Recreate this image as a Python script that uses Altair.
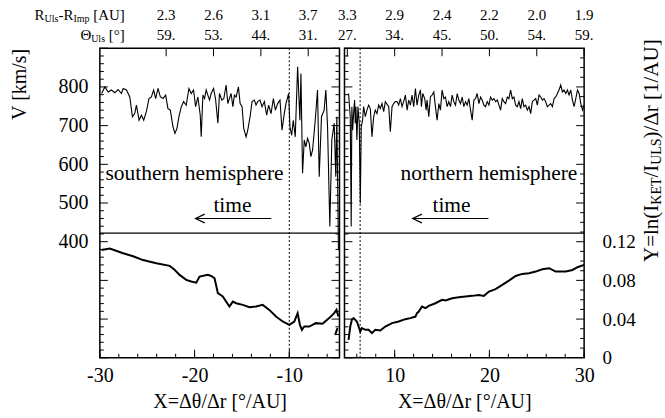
import altair as alt
import pandas as pd

FONT = "Liberation Serif, Times New Roman, serif"
W, H = 240, 310

# ---------------- data ----------------
LEFT_VX = [-29.82, -29.47, -29.12, -28.77, -28.42, -28.07, -27.72, -27.54, -27.19, -26.84,
           -26.56, -26.32, -26.14, -25.86, -25.61, -25.37, -25.09, -24.81, -24.56, -24.32,
           -24.11, -23.86, -23.61, -23.33, -23.05, -22.81, -22.56, -22.28, -22.07, -21.86,
           -21.65, -21.40, -21.16, -20.88, -20.60, -20.35, -20.11, -19.89, -19.65, -19.40,
           -19.30, -19.12, -18.95, -18.77, -18.60, -18.42, -18.25, -18.00, -17.79, -17.54,
           -17.37, -17.12, -16.91, -16.67, -16.49, -16.32, -16.14, -15.96, -15.79, -15.61,
           -15.37, -15.19, -14.98, -14.81, -14.56, -14.39, -14.14, -13.93, -13.68, -13.51,
           -13.33, -13.09, -12.88, -12.63, -12.39, -12.18, -11.93, -11.68, -11.47, -11.23,
           -10.98, -10.77, -10.53, -10.35, -10.07, -9.93, -9.75, -9.58, -9.37, -9.12,
           -8.88, -8.77, -8.60, -8.42, -8.25, -8.07, -7.89, -7.72, -7.54, -7.26,
           -7.02, -6.84, -6.60, -6.32, -6.14, -5.96, -5.72, -5.51, -5.26, -5.09,
           -4.98, -4.81]
LEFT_V = [783, 800, 787, 792, 785, 793, 783, 796, 792, 774,
          723, 731, 753, 714, 727, 714, 736, 770, 774, 792,
          770, 796, 774, 770, 779, 744, 740, 697, 680, 693,
          723, 749, 762, 753, 796, 783, 792, 749, 774, 727,
          671, 779, 770, 792, 779, 766, 783, 796, 770, 706,
          783, 766, 770, 805, 757, 770, 783, 749, 779, 774,
          800, 757, 749, 693, 671, 688, 723, 762, 766, 753,
          762, 766, 749, 762, 727, 753, 731, 770, 740, 757,
          766, 688, 731, 757, 783, 697, 675, 714, 671, 852,
          714, 835, 577, 663, 645, 667, 654, 620, 637, 714,
          792, 568, 723, 740, 792, 697, 439, 663, 706, 568,
          723, 378]

RIGHT_VX = [5.13, 5.31, 5.41, 5.48, 5.56, 5.66, 5.77, 5.84, 5.91, 6.01,
            6.12, 6.26, 6.37, 6.47, 6.61, 6.72, 6.90, 7.07, 7.25, 7.43,
            7.60, 7.78, 7.95, 8.13, 8.31, 8.48, 8.66, 8.84, 9.01, 9.37,
            9.54, 9.72, 9.89, 10.07, 10.25, 10.42, 10.60, 10.78, 10.95, 11.13,
            11.31, 11.48, 11.66, 11.83, 12.01, 12.19, 12.36, 12.54, 12.72, 12.82,
            12.96, 13.17, 13.32, 13.42, 13.60, 13.77, 13.95, 14.13, 14.30, 14.48,
            14.66, 14.83, 15.01, 15.19, 15.36, 15.54, 15.71, 15.89, 16.07, 16.24,
            16.42, 16.60, 16.77, 16.95, 17.13, 17.30, 17.48, 17.65, 17.83, 18.01,
            18.18, 18.36, 18.54, 18.71, 18.89, 19.07, 19.24, 19.42, 19.59, 19.77,
            19.95, 20.12, 20.30, 20.48, 20.65, 20.83, 21.01, 21.18, 21.36, 21.53,
            21.71, 21.89, 22.06, 22.24, 22.42, 22.59, 22.77, 22.95, 23.12, 23.30,
            23.47, 23.65, 23.83, 24.00, 24.18, 24.36, 24.53, 24.71, 24.89, 25.06,
            25.24, 25.42, 25.59, 25.77, 25.94, 26.12, 26.30, 26.47, 26.65, 26.83,
            27.00, 27.18, 27.35, 27.53, 27.71, 27.88, 28.06, 28.24, 28.41, 28.59,
            28.77, 28.94, 29.12, 29.30, 29.47, 29.65, 29.83, 30.00]
RIGHT_V = [783, 723, 439, 749, 688, 731, 766, 706, 749, 663,
           749, 706, 499, 697, 714, 749, 723, 740, 753, 744,
           671, 723, 740, 731, 753, 744, 757, 736, 762, 749,
           684, 749, 757, 762, 762, 753, 770, 749, 762, 779,
           740, 766, 753, 779, 749, 796, 753, 779, 792, 749,
           783, 770, 740, 766, 723, 774, 779, 787, 749, 714,
           757, 740, 792, 770, 774, 749, 762, 749, 779, 762,
           753, 783, 766, 757, 774, 749, 762, 753, 770, 740,
           714, 766, 770, 783, 757, 774, 766, 753, 749, 762,
           753, 774, 766, 770, 762, 766, 753, 740, 770, 762,
           757, 774, 770, 792, 770, 774, 753, 749, 762, 744,
           770, 749, 753, 740, 749, 731, 762, 766, 770, 753,
           779, 774, 766, 770, 762, 749, 753, 757, 749, 770,
           774, 783, 792, 805, 787, 792, 783, 792, 779, 792,
           766, 749, 770, 792, 783, 757, 740, 753]

LEFT_YX = [-29.82, -28.95, -27.54, -26.49, -25.44, -24.04, -22.63, -22.11, -21.58, -20.88,
           -20.35, -19.82, -19.47, -18.60, -18.25, -17.89, -17.54, -17.02, -16.32, -15.96,
           -15.61, -14.91, -14.21, -13.51, -12.81, -12.11, -11.40, -10.70, -10.00, -9.47,
           -9.12, -8.88, -8.67, -8.42, -7.89, -7.19, -6.49, -5.79, -5.26, -5.02, -4.81]
LEFT_Y = [0.1115, 0.113, 0.108, 0.105, 0.101, 0.0977, 0.095, 0.091, 0.0857, 0.0805,
          0.0788, 0.0777, 0.0839, 0.0857, 0.0846, 0.0822, 0.0668, 0.0633, 0.0530, 0.0581,
          0.0564, 0.0547, 0.0523, 0.0530, 0.0547, 0.0495, 0.0426, 0.0375, 0.0341, 0.0375,
          0.0461, 0.0341, 0.0289, 0.0323, 0.0323, 0.0358, 0.0351, 0.041, 0.0461, 0.0495, 0.0426]
LEFT_YX_TAIL = [-5.16, -4.91]
LEFT_Y_TAIL = [0.0237, 0.0306]

RIGHT_YX = [5.13, 5.31, 5.48, 5.66, 6.01, 6.37, 6.54, 6.90, 7.25, 7.60,
            7.95, 8.48, 9.01, 9.72, 10.42, 11.13, 11.66, 12.19, 12.36, 12.54,
            12.89, 13.25, 13.60, 14.30, 15.01, 15.36, 16.07, 16.77, 17.48, 18.18,
            18.89, 19.42, 19.95, 20.65, 21.36, 22.06, 22.77, 23.47, 24.18, 24.89,
            25.59, 26.30, 27.00, 28.06, 28.77, 29.30, 30.00]
RIGHT_Y = [0.0186, 0.0323, 0.0392, 0.041, 0.0375, 0.0271, 0.0306, 0.0289, 0.0289, 0.0255,
           0.0289, 0.0282, 0.0323, 0.0358, 0.0375, 0.0399, 0.041, 0.0426, 0.0461, 0.0478,
           0.053, 0.0513, 0.0537, 0.0564, 0.0599, 0.0592, 0.0616, 0.0626, 0.0633, 0.064,
           0.065, 0.064, 0.0684, 0.0709, 0.0753, 0.0798, 0.0846, 0.0867, 0.0874, 0.0891,
           0.0915, 0.0926, 0.0891, 0.0891, 0.0908, 0.0936, 0.096]

TOP_X_LEFT = [-23, -18, -13, -8]
R_LEFT = ["2.3", "2.6", "3.1", "3.7"]
TH_LEFT = ["59.", "53.", "44.", "31."]
TOP_X_RIGHT = [5, 10, 15, 20, 25, 30]
R_RIGHT = ["3.3", "2.9", "2.4", "2.2", "2.0", "1.9"]
TH_RIGHT = ["27.", "34.", "45.", "50.", "54.", "59."]

SEPARATOR_V = [422]
DOTTED_LEFT = [-10.0]
DOTTED_RIGHT = [6.35]

V_MAJOR = [100, 200, 300, 400, 500, 600, 700, 800, 900]
V_MINOR = [v for v in range(120, 900, 20) if v % 100]
Y_MAJOR = [0.04, 0.08, 0.12, 0.16, 0.20, 0.24, 0.28]
Y_MINOR = [i / 100 for i in range(1, 32) if i % 4]
X_MINOR_LEFT = list(range(-30, -4, 2))
X_MINOR_RIGHT = list(range(6, 31, 2))

V_SCALE = alt.Scale(domain=[100, 900], nice=False, zero=False)
Y_SCALE = alt.Scale(domain=[0, 0.32], nice=False, zero=False)
ONE = pd.DataFrame({"a": [0]})


def x_axis(vals):
    return alt.Axis(values=vals, title="X=Δθ/Δr [°/AU]", tickSize=0, domain=False, grid=False,
                    labelExpr="datum.value < 0 ? '-' + abs(datum.value) : '' + datum.value",
                    labelFont=FONT, labelFontSize=20, labelColor="black", labelPadding=8,
                    labelFlush=False, titleFont=FONT, titleFontSize=20, titleFontWeight="normal",
                    titleColor="black", titlePadding=6)


def piece(text, px, py, size, angle=0):
    kw = dict(font=FONT, fontSize=size, color="black", align="left", baseline="middle", text=text)
    if angle:
        kw["angle"] = angle
    return alt.Chart(ONE).mark_text(**kw).encode(x=alt.value(px), y=alt.value(py))


def edge_ticks(vals, field, scale, side, length):
    df = pd.DataFrame({field: vals})
    x0 = 0 if side == "left" else W
    x1 = length if side == "left" else W - length
    return alt.Chart(df).mark_rule(color="black", strokeWidth=1).encode(
        y=alt.Y(f"{field}:Q", scale=scale, axis=None), x=alt.value(x0), x2=alt.value(x1))


def panel(xdom, xlabels, vx, vv, ysegs, dotted, hemi_label, hemi_x, time_x, arrow_x,
          top_x, top_r, top_t, x_minor, left_panel):
    xs = alt.Scale(domain=xdom, nice=False, zero=False)
    XA = x_axis(xlabels)

    def X(f="x"):
        return alt.X(f"{f}:Q", scale=xs, axis=XA)

    if left_panel:
        vaxis = alt.Axis(values=[400, 500, 600, 700, 800], title="V [km/s]", tickSize=0,
                         domain=False, grid=False, labelFont=FONT, labelFontSize=20,
                         labelColor="black", labelPadding=12, titleFont=FONT, titleFontSize=20,
                         titleFontWeight="normal", titleColor="black", titleAnchor="end",
                         titlePadding=28)
        yaxis = None
    else:
        vaxis = None
        yaxis = alt.Axis(orient="right", values=[0, 0.04, 0.08, 0.12],
                         labelExpr="datum.value == 0 ? '0' : format(datum.value, '.2f')",
                         tickSize=0, domain=False, grid=False, labelFont=FONT, labelFontSize=19,
                         labelColor="black", labelPadding=18, title=None)

    layers = []
    vline = alt.Chart(pd.DataFrame({"x": vx, "v": vv})).mark_line(
        color="black", strokeWidth=1.1, clip=True).encode(
        x=X(), y=alt.Y("v:Q", scale=V_SCALE, axis=vaxis))
    layers.append(vline)

    rows = []
    for s, (sx, sy) in enumerate(ysegs):
        for a, b in zip(sx, sy):
            rows.append({"x": a, "y": b, "seg": s})
    yline = alt.Chart(pd.DataFrame(rows)).mark_line(
        color="black", strokeWidth=2, clip=True).encode(
        x=X(), y=alt.Y("y:Q", scale=Y_SCALE, axis=yaxis), detail="seg:N")
    layers.append(yline)

    layers.append(alt.Chart(pd.DataFrame({"v": SEPARATOR_V})).mark_rule(
        color="black", strokeWidth=1.2).encode(y=alt.Y("v:Q", scale=V_SCALE, axis=None)))
    layers.append(alt.Chart(pd.DataFrame({"x": dotted})).mark_rule(
        color="black", strokeWidth=1, strokeDash=[2, 2]).encode(x=X()))

    layers.append(alt.Chart(pd.DataFrame({"x": [hemi_x], "v": [576], "t": [hemi_label]})).mark_text(
        font=FONT, fontSize=21.5, color="black", baseline="middle").encode(
        x=X(), y=alt.Y("v:Q", scale=V_SCALE, axis=None), text="t:N"))
    layers.append(alt.Chart(pd.DataFrame({"x": [time_x], "v": [492], "t": ["time"]})).mark_text(
        font=FONT, fontSize=21.5, color="black", baseline="middle").encode(
        x=X(), y=alt.Y("v:Q", scale=V_SCALE, axis=None), text="t:N"))
    layers.append(alt.Chart(pd.DataFrame({"x": [arrow_x[0]], "x1": [arrow_x[1]], "v": [460]})).mark_rule(
        color="black", strokeWidth=1.2).encode(
        x=X(), x2="x1:Q", y=alt.Y("v:Q", scale=V_SCALE, axis=None)))
    layers.append(alt.Chart(pd.DataFrame({"x": [arrow_x[0]], "v": [460]})).mark_point(
        shape="M 2.3 -1.1 L 0 0 L 2.3 1.1", size=64, filled=False, color="black",
        strokeWidth=1.2, opacity=1).encode(x=X(), y=alt.Y("v:Q", scale=V_SCALE, axis=None)))

    # inward ticks
    layers.append(edge_ticks(V_MAJOR, "v", V_SCALE, "left", 8))
    layers.append(edge_ticks(V_MINOR, "v", V_SCALE, "left", 4))
    if left_panel:
        layers.append(edge_ticks(V_MAJOR, "v", V_SCALE, "right", 8))
        layers.append(edge_ticks(V_MINOR, "v", V_SCALE, "right", 4))
    else:
        layers.append(edge_ticks(Y_MAJOR, "y", Y_SCALE, "right", 8))
        layers.append(edge_ticks(Y_MINOR, "y", Y_SCALE, "right", 4))
    layers.append(alt.Chart(pd.DataFrame({"x": xlabels})).mark_rule(color="black", strokeWidth=1).encode(
        x=X(), y=alt.value(H), y2=alt.value(H - 8)))
    layers.append(alt.Chart(pd.DataFrame({"x": x_minor})).mark_rule(color="black", strokeWidth=1).encode(
        x=X(), y=alt.value(H), y2=alt.value(H - 4)))
    layers.append(alt.Chart(pd.DataFrame({"x": top_x})).mark_rule(color="black", strokeWidth=1).encode(
        x=X(), y=alt.value(0), y2=alt.value(8)))

    # top annotation rows
    layers.append(alt.Chart(pd.DataFrame({"x": top_x, "t": top_r})).mark_text(
        font=FONT, fontSize=15, color="black", baseline="middle").encode(
        x=X(), y=alt.value(-33), text="t:N"))
    layers.append(alt.Chart(pd.DataFrame({"x": top_x, "t": top_t})).mark_text(
        font=FONT, fontSize=15, color="black", baseline="middle").encode(
        x=X(), y=alt.value(-13), text="t:N"))

    if left_panel:
        layers += [piece("R", -65.4, -33, 15), piece("Uls", -55.4, -29, 10),
                   piece("-R", -41.5, -33, 15), piece("Imp", -26.5, -29, 10),
                   piece("[AU]", -6.7, -33, 15),
                   piece("Θ", -19.5, -13, 15), piece("Uls", -8.7, -9, 10),
                   piece("[°]", 9, -13, 15)]
    else:
        layers += [piece("Y=ln(I", 308, 214, 21, 270), piece("KET", 313, 156.7, 14, 270),
                   piece("/I", 308, 129.5, 21, 270), piece("ULS", 313, 116.7, 14, 270),
                   piece(")/Δr [1/AU]", 308, 90.3, 21, 270)]

    return alt.layer(*layers).resolve_scale(y="independent").properties(width=W, height=H)


left = panel([-30, -4.7], [-30, -20, -10], LEFT_VX, LEFT_V,
             [(LEFT_YX, LEFT_Y), (LEFT_YX_TAIL, LEFT_Y_TAIL)], DOTTED_LEFT,
             "southern hemisphere", -20.0, -16.0, (-19.9, -11.9),
             TOP_X_LEFT, R_LEFT, TH_LEFT, X_MINOR_LEFT, True)
right = panel([4.7, 30], [10, 20, 30], RIGHT_VX, RIGHT_V,
              [(RIGHT_YX, RIGHT_Y)], DOTTED_RIGHT,
              "northern hemisphere", 19.95, 16.0, (11.9, 19.9),
              TOP_X_RIGHT, R_RIGHT, TH_RIGHT, X_MINOR_RIGHT, False)

chart = alt.hconcat(left, right, spacing=5, bounds="flush").properties(
    padding={"left": 9, "top": 7, "right": 0, "bottom": 0},
    background="white",
).configure_view(stroke="black", strokeWidth=1.5)

chart.save("out.html", embed_options={"renderer": "svg", "actions": False})
